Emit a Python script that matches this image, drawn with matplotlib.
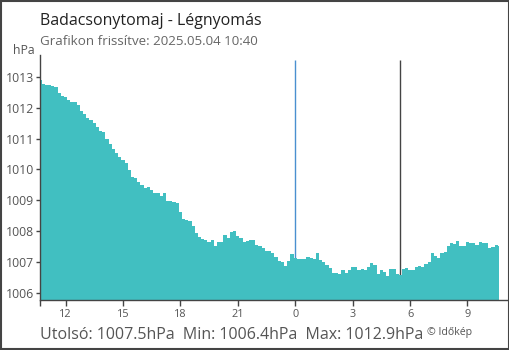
import matplotlib
matplotlib.use("Agg")
import matplotlib.pyplot as plt
from matplotlib.patches import Rectangle
import numpy as np

plt.rcParams['font.family'] = ['Open Sans', 'DejaVu Sans']

title = "Badacsonytomaj - Légnyomás"
subtitle = "Grafikon frissítve: 2025.05.04 10:40"
unit = "hPa"
footer = "Utolsó: 1007.5hPa  Min: 1006.4hPa  Max: 1012.9hPa"
credit = "© Időkép"

# 10-minute samples starting 10:40 the previous day (hours relative to midnight)
start_hour = -14 + 2/3
step_hours = 1/6
pressure = [
    1012.91, 1012.78, 1012.75, 1012.75, 1012.72, 1012.68, 1012.50, 1012.39, 1012.35, 1012.26,
    1012.19, 1012.20, 1012.10, 1011.90, 1011.81, 1011.67, 1011.61, 1011.51, 1011.38, 1011.26,
    1011.21, 1011.00, 1010.83, 1010.67, 1010.53, 1010.42, 1010.30, 1010.21, 1009.99, 1009.77,
    1009.72, 1009.61, 1009.50, 1009.41, 1009.43, 1009.34, 1009.25, 1009.23, 1009.15, 1009.24,
    1008.98, 1008.97, 1008.95, 1008.92, 1008.63, 1008.40, 1008.36, 1008.34, 1008.17, 1007.94,
    1007.81, 1007.75, 1007.71, 1007.66, 1007.71, 1007.53, 1007.65, 1007.65, 1007.87, 1007.77,
    1007.96, 1008.01, 1007.84, 1007.77, 1007.65, 1007.69, 1007.71, 1007.71, 1007.55, 1007.50,
    1007.44, 1007.36, 1007.36, 1007.30, 1007.17, 1007.03, 1007.01, 1006.87, 1007.04, 1007.25,
    1007.12, 1007.09, 1007.09, 1007.10, 1007.17, 1007.12, 1007.09, 1007.28, 1007.06, 1006.98,
    1006.90, 1006.79, 1006.65, 1006.65, 1006.61, 1006.74, 1006.63, 1006.74, 1006.83, 1006.83,
    1006.72, 1006.76, 1006.72, 1006.83, 1006.96, 1006.90, 1006.61, 1006.74, 1006.68, 1006.54,
    1006.76, 1006.76, 1006.60, 1006.58, 1006.76, 1006.79, 1006.74, 1006.74, 1006.83, 1006.87,
    1006.83, 1006.93, 1007.01, 1007.28, 1007.19, 1007.14, 1007.30, 1007.33, 1007.50, 1007.62,
    1007.57, 1007.67, 1007.50, 1007.50, 1007.65, 1007.61, 1007.61, 1007.55, 1007.65, 1007.62,
    1007.62, 1007.44, 1007.48, 1007.55, 1007.52,
]

x_ticks = [-12, -9, -6, -3, 0, 3, 6, 9]
x_tick_labels = ["12", "15", "18", "21", "0", "3", "6", "9"]
y_ticks = [1006, 1007, 1008, 1009, 1010, 1011, 1012, 1013]
midnight = 0
sunrise = 5.5

x_right = 11.12
y_bottom, y_top = 1005.76, 1013.72
line_top = 1013.56

fill_color = '#41bfc1'
blue = '#4a90d0'
dark = '#444444'

hours = start_hour + step_hours * np.arange(len(pressure))

fig = plt.figure(figsize=(5.1, 3.5), dpi=100)
ax = fig.add_axes([40/510, 50/350, 468/510, 245/350])

ax.vlines([midnight], y_bottom, line_top, color=blue, lw=1, zorder=1)
ax.vlines([sunrise], y_bottom, line_top, color=dark, lw=1, zorder=1)
ax.fill_between(hours, pressure, y_bottom, step='mid', color=fill_color, lw=0, zorder=2)

ax.set_xlim(start_hour, x_right)
ax.set_ylim(y_bottom, y_top)

for s in ['top', 'right']:
    ax.spines[s].set_visible(False)
for s in ['left', 'bottom']:
    ax.spines[s].set_color(dark)
    ax.spines[s].set_linewidth(1)
    ax.spines[s].set_zorder(3)

ax.set_xticks([start_hour] + x_ticks)
ax.set_xticklabels([""] + x_tick_labels)
ax.set_yticks(y_ticks)
ax.set_yticklabels([str(v) for v in y_ticks])
ax.tick_params(axis='x', length=4.5, width=1, color=dark, labelsize=7.8,
               labelcolor='#555555', pad=2)
ax.tick_params(axis='y', length=3, width=1, color=dark, labelsize=8.8,
               labelcolor='#555555', pad=1)
for t, lab in zip(ax.get_xticks(), ax.xaxis.get_major_ticks()):
    if t == midnight:
        lab.tick1line.set_color(blue)

fig.text(40/510, 1 - 25/350, title, fontsize=11.5, color='#222222', ha='left', va='baseline')
fig.text(40/510, 1 - 45/350, subtitle, fontsize=9.6, color='#666666', ha='left', va='baseline')
fig.text(35/510, 1 - 54/350, unit, fontsize=8.8, color='#555555', ha='right', va='baseline')
fig.text(40/510, 1 - 339/350, footer, fontsize=11.55, color='#555555', ha='left', va='baseline')
fig.text(427/510, 1 - 335/350, credit, fontsize=7.6, color='#555555', ha='left', va='baseline')

fig.patches.append(Rectangle((0.001, 0.0015), 0.997, 0.996, transform=fig.transFigure,
                             fill=False, edgecolor=dark, lw=1.5))

fig.savefig('out.png', dpi=100)
